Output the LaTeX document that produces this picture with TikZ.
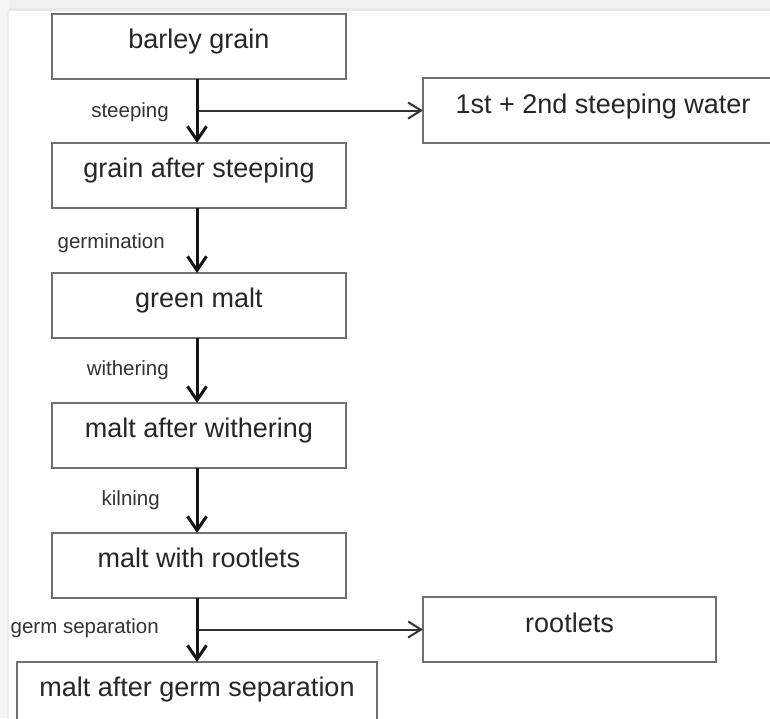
\documentclass[tikz,border=0pt]{standalone}
\usepackage{fontspec}
\setmainfont{Liberation Sans}
\usetikzlibrary{arrows.meta}
\definecolor{boxline}{HTML}{707070}
\definecolor{arrline}{HTML}{151515}
\begin{document}
\begin{tikzpicture}[x=1pt,y=-1pt,
  stepbox/.style={draw=boxline,line width=1.8pt,fill=white,inner sep=0pt,outer sep=0pt,
    text height=34pt,text depth=31pt,minimum width=294pt,anchor=north west,
    font=\fontsize{27}{32}\selectfont,text=black!85},
  steplabel/.style={anchor=base east,inner sep=0pt,font=\fontsize{20.5}{24}\selectfont,text=black!80},
  mainarrow/.style={draw=arrline,line width=3pt,-{Straight Barb[length=14pt,width=19pt]}},
  sidearrow/.style={draw=black!80,line width=2pt,-{Straight Barb[length=13pt,width=16pt]}}]
\useasboundingbox (0,0) rectangle (770,718);
\fill[white] (0,0) rectangle (770,718);
% screenshot frame
\fill[black!6] (0,0) rectangle (770,11);
\fill[black!9] (0,8) rectangle (770,11);
\fill[black!4] (0,0) rectangle (9,718);
\fill[black!7] (7,11) rectangle (9,718);
\begin{scope}
\clip (0,0) rectangle (770,718);
\node[stepbox] (barley) at (52,14) {barley grain};
\node[stepbox] (steeped) at (52,143) {grain after steeping};
\node[stepbox] (green) at (52,273) {green malt};
\node[stepbox] (withered) at (52,403) {malt after withering};
\node[stepbox] (rooted) at (52,533) {malt with rootlets};
\node[stepbox,minimum width=360pt,text depth=40pt] (separated) at (17,662) {malt after germ separation};
\node[stepbox,minimum width=360pt,text height=35pt,text depth=30pt] (water) at (423,78) {1st + 2nd steeping water};
\node[stepbox,minimum width=293pt,text height=35pt,text depth=30pt] (rootlets) at (423,597) {rootlets};
\end{scope}
\node[steplabel] (l1) at (169,117) {steeping};
\node[steplabel] (l2) at (165,248) {germination};
\node[steplabel] (l3) at (169,375) {withering};
\node[steplabel] (l4) at (160,505) {kilning};
\node[steplabel] (l5) at (159,633) {germ separation};
\coordinate (j1) at (197,110.5);
\coordinate (j2) at (197,629.5);
\draw[sidearrow] (j1) -- (water.west);
\draw[sidearrow] (j2) -- (rootlets.west);
\draw[mainarrow] ([xshift=-2pt]barley.south) -- ([xshift=-2pt]steeped.north);
\draw[mainarrow] ([xshift=-2pt]steeped.south) -- ([xshift=-2pt]green.north);
\draw[mainarrow] ([xshift=-2pt]green.south) -- ([xshift=-2pt]withered.north);
\draw[mainarrow] ([xshift=-2pt]withered.south) -- ([xshift=-2pt]rooted.north);
\draw[mainarrow] ([xshift=-2pt]rooted.south) -- (separated.north);
\end{tikzpicture}
\end{document}
